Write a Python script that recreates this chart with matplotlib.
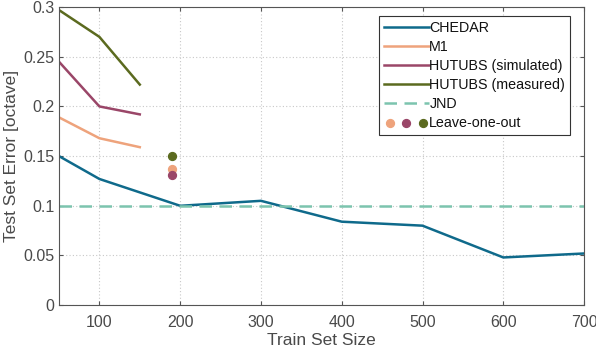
import matplotlib

matplotlib.use("Agg")
import matplotlib.pyplot as plt
from matplotlib.legend_handler import HandlerTuple

# data
chedar_x = [50, 100, 200, 300, 400, 500, 600, 700]
chedar_y = [0.150, 0.127, 0.100, 0.105, 0.084, 0.080, 0.048, 0.052]
small_x = [50, 100, 150]
m1_y = [0.189, 0.168, 0.159]
hutubs_sim_y = [0.245, 0.200, 0.192]
hutubs_meas_y = [0.297, 0.270, 0.222]
jnd = 0.1
loo_x = 190
loo_m1 = 0.137
loo_sim = 0.131
loo_meas = 0.150

c_chedar = "#0f6a8b"
c_m1 = "#eea37c"
c_sim = "#9a4668"
c_meas = "#5b6a1f"
c_jnd = "#7cc4ae"

plt.rcParams["font.family"] = "Liberation Sans"
plt.rcParams["font.size"] = 10

fig = plt.figure(figsize=(5.96, 3.54), dpi=100)
ax = fig.add_axes([0.099, 0.138, 0.881, 0.842])

h_ched, = ax.plot(chedar_x, chedar_y, color=c_chedar, linewidth=1.8, label="CHEDAR")
h_m1, = ax.plot(small_x, m1_y, color=c_m1, linewidth=1.8, label="M1")
h_sim, = ax.plot(small_x, hutubs_sim_y, color=c_sim, linewidth=1.8, label="HUTUBS (simulated)")
h_meas, = ax.plot(small_x, hutubs_meas_y, color=c_meas, linewidth=1.8, label="HUTUBS (measured)")
h_jnd = ax.axhline(jnd, color=c_jnd, linewidth=1.8, linestyle=(0, (5, 3)), label="JND")

d_m1 = ax.scatter([loo_x], [loo_m1], s=32, color=c_m1, zorder=3)
d_sim = ax.scatter([loo_x], [loo_sim], s=32, color=c_sim, zorder=3)
d_meas = ax.scatter([loo_x], [loo_meas], s=32, color=c_meas, zorder=3)

ax.set_xlim(50, 700)
ax.set_ylim(0, 0.3)
ax.set_xticks([100, 200, 300, 400, 500, 600, 700])
ax.set_yticks([0, 0.05, 0.1, 0.15, 0.2, 0.25, 0.3])
ax.set_yticklabels(["0", "0.05", "0.1", "0.15", "0.2", "0.25", "0.3"])
ax.grid(True, color="#c8c8c8", linestyle=(0, (1, 2)), linewidth=0.8)
ax.set_axisbelow(True)
ax.tick_params(direction="in", top=True, right=True, length=3, colors="#555555",
               labelcolor="#4a4a4a", labelsize=11.5)
ax.tick_params(axis="x", pad=7)
for sp in ax.spines.values():
    sp.set_color("#555555")
    sp.set_linewidth(0.8)
ax.set_xlabel("Train Set Size", color="#4a4a4a", fontsize=12.5, labelpad=2)
ax.set_ylabel("Test Set Error [octave]", color="#4a4a4a", fontsize=12.5, labelpad=3)

leg = ax.legend(
    [h_ched, h_m1, h_sim, h_meas, h_jnd, (d_m1, d_sim, d_meas)],
    ["CHEDAR", "M1", "HUTUBS (simulated)", "HUTUBS (measured)", "JND", "Leave-one-out"],
    handler_map={tuple: HandlerTuple(ndivide=None, pad=0.3)},
    loc="upper left", bbox_to_anchor=(0.610, 0.970), fontsize=10.3,
    handlelength=3.1, handletextpad=0.05, labelspacing=0.35, borderpad=0.35,
    borderaxespad=0.0, fancybox=False, edgecolor="#333333", framealpha=1.0,
)
leg.get_frame().set_linewidth(0.8)
for t in leg.get_texts():
    t.set_color("#111111")

fig.savefig("out.png", dpi=100)
